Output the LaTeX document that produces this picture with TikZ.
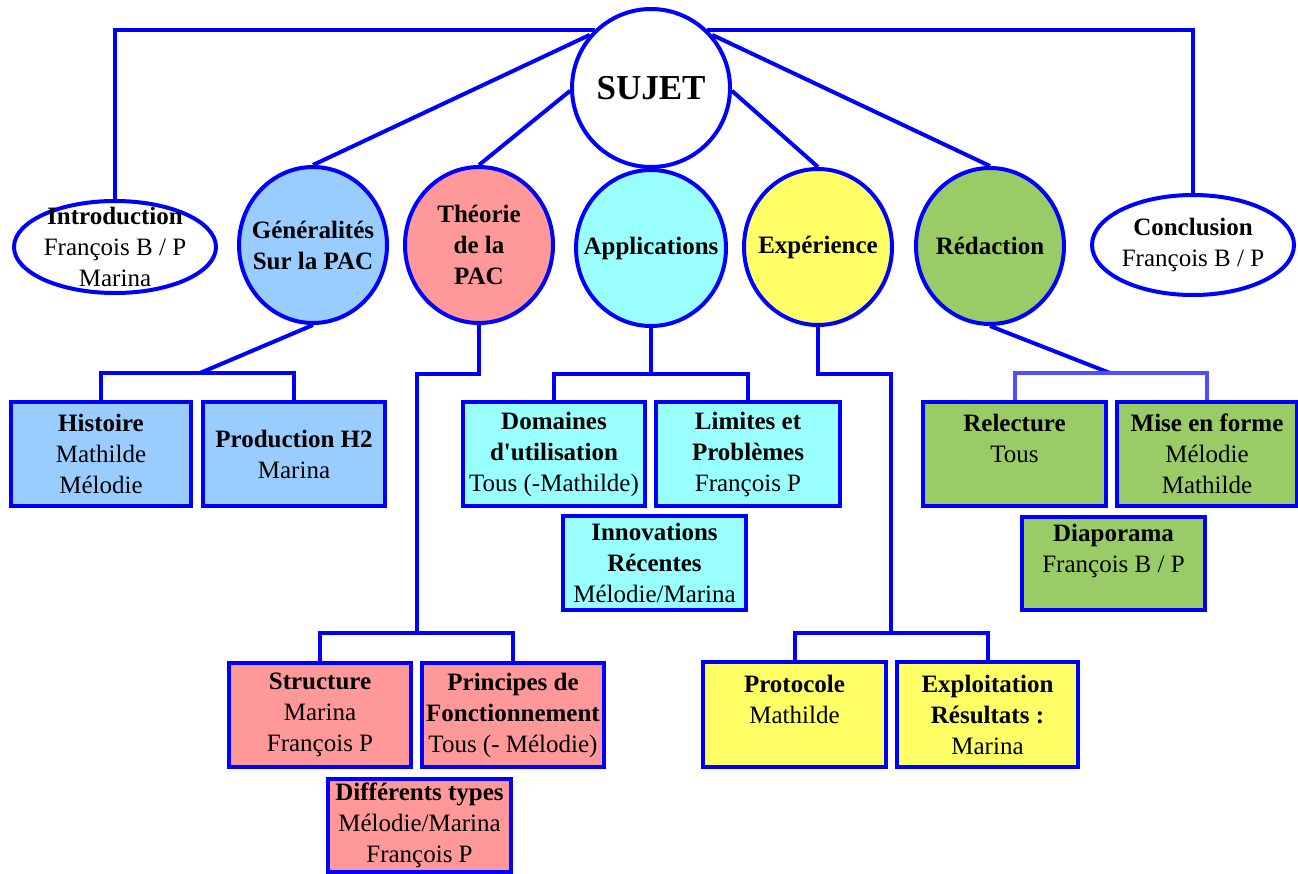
\documentclass[tikz,border=0pt]{standalone}
\usepackage{fontspec}
\setmainfont{Liberation Serif}
\usetikzlibrary{shapes.geometric}
\definecolor{lineblue}{HTML}{0000FF}
\definecolor{lightline}{HTML}{4F4FFF}
\definecolor{genfill}{HTML}{99CCFF}
\definecolor{theofill}{HTML}{FF9999}
\definecolor{appfill}{HTML}{99FFFF}
\definecolor{expfill}{HTML}{FFFF66}
\definecolor{redfill}{HTML}{99CC66}
\newcommand\mydfont{\fontsize{25}{31}\selectfont}
\begin{document}
\begin{tikzpicture}[x=1pt,y=-1pt,
  conn/.style={draw=lineblue, line width=4pt},
  oval/.style={ellipse, draw=lineblue, line width=4pt, inner sep=0pt},
  txt/.style={align=center, inner sep=0pt, font=\mydfont},
  tbox/.style={rectangle, draw=lineblue, line width=4pt, inner sep=0pt, align=center, font=\mydfont},
]
\useasboundingbox (0,0) rectangle (1298,873);

% main ovals
\node[oval, fill=white, minimum width=158pt, minimum height=158pt] (sujet) at (651,88) {};
\node[txt, font=\fontsize{35}{40}\selectfont] (sujet-t) at (sujet) {\textbf{SUJET}};

\node[oval, fill=white, minimum width=202pt, minimum height=92pt] (intro) at (115,247) {};
\node[txt] (intro-t) at (intro) {\textbf{Introduction}\\François B / P\\Marina};

\node[oval, fill=genfill, minimum width=148pt, minimum height=156pt] (gen) at (313,245) {};
\node[txt] (gen-t) at (gen) {\textbf{Généralités}\\\textbf{Sur la PAC}};

\node[oval, fill=theofill, minimum width=148pt, minimum height=156pt] (theo) at (479,245) {};
\node[txt] (theo-t) at (theo) {\textbf{Théorie}\\\textbf{de la}\\\textbf{PAC}};

\node[oval, fill=appfill, minimum width=150pt, minimum height=156pt] (app) at (651,248) {};
\node[txt] (app-t) at (app) {\textbf{Applications}};

\node[oval, fill=expfill, minimum width=148pt, minimum height=156pt] (exp) at (818,247) {};
\node[txt] (exp-t) at (exp) {\textbf{Expérience}};

\node[oval, fill=redfill, minimum width=148pt, minimum height=156pt] (red) at (990,246) {};
\node[txt] (red-t) at (red) {\textbf{Rédaction}};

\node[oval, fill=white, minimum width=202pt, minimum height=100pt] (concl) at (1193,245) {};
\node[txt] (concl-t) at (concl) {\textbf{Conclusion}\\François B / P};

% boxes
\node[tbox, fill=genfill, minimum width=180pt, minimum height=104pt] (hist) at (101,454) {\textbf{Histoire}\\Mathilde\\Mélodie};
\node[tbox, fill=genfill, minimum width=182pt, minimum height=104pt] (prod) at (294,454) {\textbf{Production H2}\\Marina};

\node[tbox, fill=appfill, minimum width=182pt, minimum height=104pt] (dom) at (554,454) {\textbf{Domaines}\\\textbf{d\textquotesingle utilisation}\\Tous (-Mathilde)};
\node[tbox, fill=appfill, minimum width=184pt, minimum height=104pt] (lim) at (748,454) {\textbf{Limites et}\\\textbf{Problèmes}\\François P};
\node[tbox, fill=appfill, minimum width=183pt, minimum height=94pt] (innov) at (654.5,563) {\textbf{Innovations}\\\textbf{Récentes}\\Mélodie/Marina};

\node[tbox, fill=redfill, minimum width=183pt, minimum height=104pt] (relec) at (1014.5,454) {\textbf{Relecture}\\Tous\\~};
\node[tbox, fill=redfill, minimum width=180pt, minimum height=104pt] (mise) at (1207,454) {\textbf{Mise en forme}\\Mélodie\\Mathilde};
\node[tbox, fill=redfill, minimum width=183pt, minimum height=93pt] (diapo) at (1113.5,563.5) {\textbf{Diaporama}\\François B / P\\~};

\node[tbox, fill=theofill, minimum width=182pt, minimum height=104pt] (struct) at (320,715) {\textbf{Structure}\\Marina\\François P};
\node[tbox, fill=theofill, minimum width=182pt, minimum height=104pt] (princ) at (513,715) {\textbf{Principes de}\\\textbf{Fonctionnement}\\Tous (- Mélodie)};
\node[tbox, fill=theofill, minimum width=183pt, minimum height=93pt] (diff) at (419.5,825) {\textbf{Différents types}\\Mélodie/Marina\\François P};

\node[tbox, fill=expfill, minimum width=183pt, minimum height=105pt] (proto) at (794.5,714.5) {\textbf{Protocole}\\Mathilde\\~};
\node[tbox, fill=expfill, minimum width=181pt, minimum height=105pt] (exploit) at (987.5,714.5) {\textbf{Exploitation}\\\textbf{Résultats :}\\Marina};

% junction coordinates
\coordinate (gen-j) at (200,373);
\coordinate (theo-k) at (417,374);
\coordinate (theo-j) at (417,633);
\coordinate (app-j) at (651,374);
\coordinate (exp-k) at (891,374);
\coordinate (exp-j) at (891,633);
\coordinate (red-j) at (1110,373);

% connectors from SUJET
\draw[conn] (intro.north) |- (sujet.134);
\draw[conn] (sujet.46) -| (concl.north);
\draw[conn] (sujet.139) -- (gen.north);
\draw[conn] (sujet.182) -- (theo.north);
\draw[conn] (sujet.358) -- (exp.north);
\draw[conn] (sujet.41) -- (red.north);

% Généralités
\draw[conn] (gen.south) -- (gen-j);
\draw[conn] (hist.north) |- (gen-j) -| (prod.north);
% Théorie
\draw[conn] (theo.south) |- (theo-k) -- (theo-j);
\draw[conn] (struct.north) |- (theo-j) -| (princ.north);
% Applications
\draw[conn] (app.south) -- (app-j);
\draw[conn] (dom.north) |- (app-j) -| (lim.north);
% Expérience
\draw[conn] (exp.south) |- (exp-k) -- (exp-j);
\draw[conn] (proto.north) |- (exp-j) -| (exploit.north);
% Rédaction
\draw[conn] (red.south) -- (red-j);
\draw[conn, draw=lightline] (relec.north) |- (red-j) -| (mise.north);
\end{tikzpicture}
\end{document}
